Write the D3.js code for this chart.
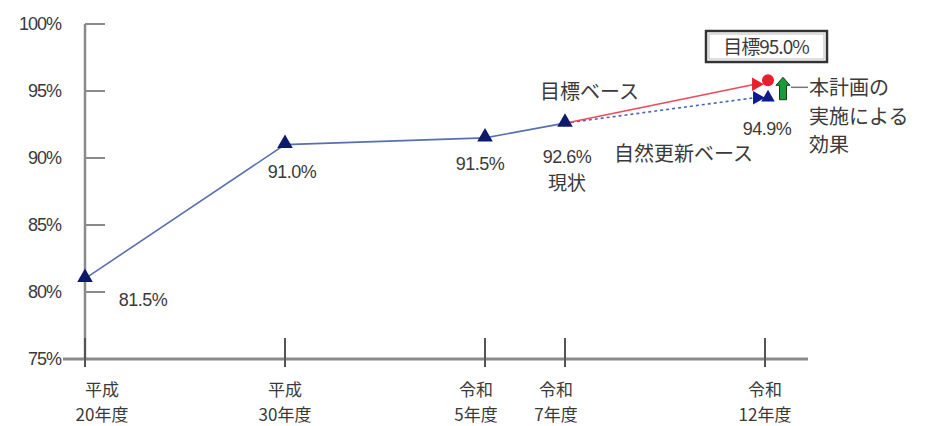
<!DOCTYPE html>
<meta charset="utf-8">
<style>
body { margin: 0; background: #fff; }
svg { display: block; }
text { font-family: "Liberation Sans", Arial, "Noto Sans CJK JP", sans-serif; fill: #3a3a3a; }
.jp { font-family: "Noto Sans CJK JP", "Liberation Sans", sans-serif; }
.line { fill: none; }
</style>
<body>
<script src="https://d3js.org/d3.v7.min.js"></script>
<script>

// data
var years = [2008, 2018, 2023, 2025, 2030];
var yearLabels = [["平成", "20年度"], ["平成", "30年度"], ["令和", "5年度"], ["令和", "7年度"], ["令和", "12年度"]];
var yTicks = [75, 80, 85, 90, 95, 100];

var actualYears = [2008, 2018, 2023, 2025];
var actualRate = [81.0, 91.0, 91.5, 92.6];
var actualLabels = ["81.5%", "91.0%", "91.5%", "92.6%"];

var planYears = [2025, 2030];
var targetRate = [92.6, 95.5];   // 目標ベース
var naturalRate = [92.6, 94.5];  // 自然更新ベース
var targetText = "目標95.0%";
var naturalText = "94.9%";

var width = 925, height = 426;

// the x axis is not linear in years: 10 years take 200px, then 40px a year
var x = d3.scaleLinear().domain([2008, 2018, 2030]).range([85, 285, 765]);
var y = d3.scaleLinear().domain([75, 100]).range([359, 24]);

var svg = d3.select("body").append("svg")
    .attr("width", width)
    .attr("height", height);

// y axis
svg.append("line")
    .attr("x1", x(2008)).attr("x2", x(2008))
    .attr("y1", y(100)).attr("y2", y(75))
    .attr("stroke", "#8a8a8a").attr("stroke-width", 2.5);

svg.selectAll(".ytick").data(yTicks.slice(1)).enter().append("line")
    .attr("x1", x(2008)).attr("x2", x(2008) + 20)
    .attr("y1", function(d) { return y(d); })
    .attr("y2", function(d) { return y(d); })
    .attr("stroke", "#8a8a8a").attr("stroke-width", 2);

svg.selectAll(".ylab").data(yTicks).enter().append("text")
    .attr("x", 61)
    .attr("y", function(d) { return y(d) + 6; })
    .attr("text-anchor", "end")
    .style("font-size", "18px")
    .style("letter-spacing", "-1px")
    .text(function(d) { return d + "%"; });

// x axis
svg.append("line")
    .attr("x1", 63).attr("x2", 808)
    .attr("y1", y(75)).attr("y2", y(75))
    .attr("stroke", "#8a8a8a").attr("stroke-width", 3);

svg.selectAll(".xtick").data(years).enter().append("line")
    .attr("x1", function(d) { return x(d); })
    .attr("x2", function(d) { return x(d); })
    .attr("y1", y(75) - 21).attr("y2", y(75) + 8)
    .attr("stroke", "#555").attr("stroke-width", 2);

// two-line category labels, one text each line
function labelX(d, i) {
  var dx = i == 0 ? 17 : (i == 2 || i == 3 ? -9 : 0);
  return x(d) + dx;
}
[0, 1].forEach(function(row) {
  svg.selectAll(".xlab" + row).data(years).enter().append("text")
      .attr("class", "jp")
      .attr("text-anchor", "middle")
      .style("font-size", "17px")
      .attr("x", labelX)
      .attr("y", row == 0 ? 396 : 421)
      .text(function(d, i) { return yearLabels[i][row]; });
});

// actual line
var actual = actualYears.map(function(d, i) { return {year: d, rate: actualRate[i]}; });
var line = d3.line()
    .x(function(d) { return x(d.year); })
    .y(function(d) { return y(d.rate); });

svg.append("path")
    .data([actual])
    .attr("class", "line")
    .attr("stroke", "#5a6fb0")
    .attr("stroke-width", 1.6)
    .attr("d", line);

// plan lines
var target = planYears.map(function(d, i) { return {year: d, rate: targetRate[i]}; });
var natural = planYears.map(function(d, i) { return {year: d, rate: naturalRate[i]}; });

var lineEnd = d3.line()
    .x(function(d, i) { return x(d.year) - (i == 1 ? 10 : 0); })
    .y(function(d) { return y(d.rate); });

svg.append("path")
    .data([natural])
    .attr("class", "line")
    .attr("stroke", "#4466b8")
    .attr("stroke-width", 1.6)
    .attr("stroke-dasharray", "3,3")
    .attr("d", lineEnd);

svg.append("path")
    .data([target])
    .attr("class", "line")
    .attr("stroke", "#ee4a5a")
    .attr("stroke-width", 1.6)
    .attr("d", lineEnd);

// markers
var tri = d3.symbol().type(d3.symbolTriangle).size(105);
svg.selectAll(".mk").data(actual).enter().append("path")
    .attr("d", tri)
    .attr("fill", "#0d1a6b")
    .attr("transform", function(d) { return "translate(" + x(d.year) + "," + (y(d.rate) - 1) + ")"; });

var smallTri = d3.symbol().type(d3.symbolTriangle).size(80);
var xe = x(2030);
// red target markers
svg.append("path").attr("d", smallTri).attr("fill", "#e8202e")
    .attr("transform", "translate(" + (xe - 9) + "," + y(targetRate[1]) + ") rotate(90)");
svg.append("circle").attr("cx", xe + 3).attr("cy", y(targetRate[1]) - 4).attr("r", 6)
    .attr("fill", "#e8202e");
// blue natural markers
svg.append("path").attr("d", smallTri).attr("fill", "#0d1a8b")
    .attr("transform", "translate(" + (xe - 8) + "," + y(naturalRate[1]) + ") rotate(90)");
svg.append("path").attr("d", smallTri).attr("fill", "#0d1a8b")
    .attr("transform", "translate(" + (xe + 3) + "," + y(naturalRate[1]) + ")");

// green arrow for the plan effect
var ax = xe + 18, arrTop = y(targetRate[1]) - 7, arrBot = y(naturalRate[1]) + 2;
svg.append("path")
    .attr("d", "M" + ax + "," + arrTop + " L" + (ax + 7) + "," + (arrTop + 8) + " L" + (ax + 3.5) + "," + (arrTop + 8) +
               " L" + (ax + 3.5) + "," + arrBot + " L" + (ax - 3.5) + "," + arrBot + " L" + (ax - 3.5) + "," + (arrTop + 8) +
               " L" + (ax - 7) + "," + (arrTop + 8) + " Z")
    .attr("fill", "#1b9a3c").attr("stroke", "#1a3a1a").attr("stroke-width", 1);

svg.append("line")
    .attr("x1", ax + 8).attr("x2", ax + 25)
    .attr("y1", arrTop + 10).attr("y2", arrTop + 10)
    .attr("stroke", "#777").attr("stroke-width", 1.5);

// value labels
var labelPos = [[143, 306], [292, 178], [480, 170], [567, 163]];
svg.selectAll(".vl").data(actualLabels).enter().append("text")
    .attr("x", function(d, i) { return labelPos[i][0]; })
    .attr("y", function(d, i) { return labelPos[i][1]; })
    .attr("text-anchor", "middle")
    .style("font-size", "18px")
    .style("letter-spacing", "-0.5px")
    .text(function(d) { return d; });

svg.append("text").attr("class", "jp").attr("x", 567).attr("y", 190)
    .attr("text-anchor", "middle").style("font-size", "19px").text("現状");

svg.append("text").attr("class", "jp").attr("x", 540).attr("y", 99)
    .style("font-size", "20px").text("目標ベース");

svg.append("text").attr("class", "jp").attr("x", 614).attr("y", 161)
    .style("font-size", "20px").text("自然更新ベース");

svg.append("text").attr("x", 767).attr("y", 135)
    .attr("text-anchor", "middle")
    .style("font-size", "18px").style("letter-spacing", "-0.5px")
    .text(naturalText);

var effLines = ["本計画の", "実施による", "効果"];
svg.selectAll(".eff").data(effLines).enter().append("text")
    .attr("class", "jp")
    .style("font-size", "20px")
    .attr("x", 809)
    .attr("y", function(d, i) { return 95 + i * 28.5; })
    .text(function(d) { return d; });

// target box
svg.append("rect")
    .attr("x", 706).attr("y", 31).attr("width", 121).attr("height", 31)
    .attr("fill", "#fff").attr("stroke", "#333").attr("stroke-width", 2.5);
svg.append("rect")
    .attr("x", 709).attr("y", 34).attr("width", 115).attr("height", 25)
    .attr("fill", "none").attr("stroke", "#bbb").attr("stroke-width", 1);
svg.append("text").attr("class", "jp").attr("x", 766).attr("y", 54)
    .attr("text-anchor", "middle").style("font-size", "19px").style("letter-spacing", "-1px")
    .text(targetText);

</script>
</body>
